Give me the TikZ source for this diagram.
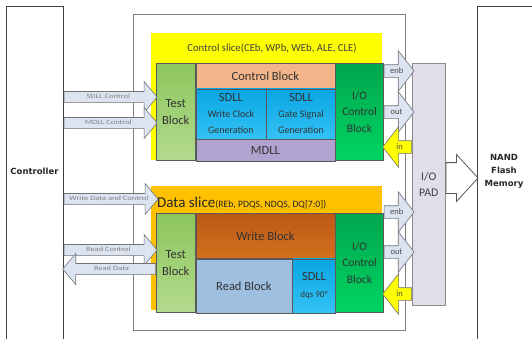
\documentclass[tikz,border=0pt]{standalone}
\usepackage{fontspec}
\setmainfont{Carlito}
\newfontfamily\sidefont{DejaVu Sans}
\usetikzlibrary{shapes.arrows,positioning,calc}

\definecolor{ctlyellow}{HTML}{FFFF00}
\definecolor{dataorange}{HTML}{FFC000}
\definecolor{busfill}{HTML}{DCE4F2}
\definecolor{padlilac}{HTML}{E1DDEA}
\definecolor{peach}{HTML}{F3B489}
\definecolor{mdllpurple}{HTML}{B1A3CF}
\definecolor{readblue}{HTML}{9EBFDF}
\definecolor{testtop}{HTML}{8CC65C}
\definecolor{testbot}{HTML}{B3DA8E}
\definecolor{iotop}{HTML}{00A64E}
\definecolor{iobot}{HTML}{00D462}
\definecolor{sdlltop}{HTML}{08A6E4}
\definecolor{sdllbot}{HTML}{34C2F4}
\definecolor{writetop}{HTML}{BC5814}
\definecolor{writebot}{HTML}{D2701E}

% stretched label on the bus arrows
\newcommand{\buslbl}[1]{\scalebox{1.3}[1]{#1}}

\begin{document}
\begin{tikzpicture}[x=1pt,y=-1pt,
    blk/.style={draw=black!65,line width=0.6pt,anchor=north west,inner sep=0pt,align=center,text=black!80,font=\fontsize{12.5}{16.5}\selectfont},
    testblk/.style={blk,top color=testtop,bottom color=testbot},
    ioblk/.style={blk,top color=iotop,bottom color=iobot,font=\fontsize{11.5}{16.5}\selectfont},
    sdllblk/.style={blk,top color=sdlltop,bottom color=sdllbot,font=\fontsize{10}{16}\selectfont},
    busarrow/.style={single arrow,draw=black!55,line width=0.6pt,fill=busfill,single arrow head extend=10pt,single arrow tip angle=100,inner xsep=1pt,inner ysep=2.5pt,text height=4.5pt,text depth=1pt,text=black!50,font=\fontsize{6.5}{6.5}\selectfont,anchor=tail},
    padarrow/.style={busarrow,single arrow head extend=14pt,single arrow tip angle=104,text height=5.5pt,text depth=1.5pt,text=black!70,font=\fontsize{8.5}{8.5}\selectfont},
    sidebox/.style={draw=black!75,line width=0.8pt,fill=white,anchor=north west,minimum width=57,minimum height=345},
    sidetext/.style={font=\sidefont\bfseries\fontsize{8.5}{13}\selectfont,align=center,text=black!85}]

\useasboundingbox (0,0) rectangle (532,338);

% controller and flash memory at the sides
\node[sidebox] (ctrl) at (6,6) {};
\node[sidetext] (ctrltxt) at (34.5,171) {Controller};
\node[sidebox,minimum width=80] (nand) at (477,6) {};
\node[sidetext] (nandtxt) at (504,171) {NAND\\Flash\\Memory};

% the chip
\node[draw=black!50,line width=0.8pt,fill=white,anchor=north west,minimum width=272,minimum height=316] (chip) at (133,14) {};

% control slice
\node[fill=ctlyellow,anchor=north west,inner sep=0pt,minimum width=231,minimum height=127] (cslice) at (151,33) {};
\node[font=\fontsize{10.7}{12}\selectfont,text=black!75] (ctitle) at (272,48) {Control slice(CEb, WPb, WEb, ALE, CLE)};
\node[testblk,minimum width=39,minimum height=97] (ctest) at (156,63) {Test\\Block};
\node[blk,fill=peach,minimum width=139,minimum height=25] (cblock) at (ctest.north east) {Control Block};
\node[sdllblk,minimum width=70,minimum height=50] (cwclk) at (cblock.south west) {{\fontsize{12.5}{16}\selectfont SDLL}\\Write Clock\\Generation};
\node[sdllblk,minimum width=69,minimum height=50] (cgate) at (cwclk.north east) {{\fontsize{12.5}{16}\selectfont SDLL}\\Gate Signal\\Generation};
\node[blk,fill=mdllpurple,minimum width=139,minimum height=22] (cmdll) at (cwclk.south west) {MDLL};
\node[ioblk,minimum width=48,minimum height=97] (cio) at (cblock.north east) {I/O\\Control\\Block};

% data slice
\node[fill=dataorange,anchor=north west,inner sep=0pt,minimum width=231,minimum height=124] (dslice) at (151,186) {};
\node[anchor=base west,inner sep=0pt,text=black!85,font=\fontsize{15}{18}\selectfont] (dtitle) at (157,207) {Data slice{\fontsize{9.7}{12}\selectfont(REb, PDQS, NDQS, DQ[7:0])}};
\node[testblk,minimum width=39,minimum height=99] (dtest) at (156,213) {Test\\Block};
\node[blk,top color=writetop,bottom color=writebot,minimum width=139,minimum height=45] (dwrite) at (dtest.north east) {Write Block};
\node[blk,fill=readblue,minimum width=96,minimum height=54] (dread) at (dwrite.south west) {Read Block};
\node[sdllblk,minimum width=43,minimum height=54,font=\fontsize{9}{17}\selectfont] (dsdll) at (dread.north east) {{\fontsize{12.5}{16}\selectfont SDLL}\\dqs 90°};
\node[ioblk,minimum width=48,minimum height=99] (dio) at (dwrite.north east) {I/O\\Control\\Block};

% pad
\node[blk,draw=black!45,fill=padlilac,minimum width=33,minimum height=242,font=\fontsize{11.7}{16.5}\selectfont,text=black!75] (pad) at (412,63) {I/O\\PAD};
\node[single arrow,draw=black!65,line width=0.8pt,fill=white,anchor=tail,minimum height=32,single arrow head extend=8pt,single arrow tip angle=95,text height=24pt,inner ysep=3pt,inner xsep=0pt] (padout) at (pad.east |- 0,178) {};

% controller buses
\node[busarrow,minimum height=93] (sdllbus) at (ctrl.east |- 0,97) {\buslbl{SDLL Control}};
\node[busarrow,minimum height=93] (mdllbus) at (ctrl.east |- 0,123) {\buslbl{MDLL Control}};
\node[busarrow,minimum height=94] (wrbus) at (ctrl.east |- 0,199) {\buslbl{Write Data and Control}};
\node[busarrow,minimum height=93] (rdctlbus) at (ctrl.east |- 0,250) {\buslbl{Read Control}};
\node[busarrow,shape border rotate=180,minimum height=93] (rddatabus) at (dtest.west |- 0,269) {\buslbl{Read Data}};

% io control to pad
\node[padarrow,minimum height=30] (cenb) at (cio.east |- 0,71) {enb};
\node[padarrow,minimum height=30] (cout) at (cio.east |- 0,112) {out};
\node[padarrow,fill=ctlyellow,shape border rotate=180,minimum height=29] (cin) at (pad.west |- 0,147) {in};
\node[padarrow,minimum height=30] (denb) at (dio.east |- 0,212) {enb};
\node[padarrow,minimum height=30] (dout) at (dio.east |- 0,252) {out};
\node[padarrow,fill=ctlyellow,shape border rotate=180,minimum height=29] (din) at (pad.west |- 0,294) {in};

\end{tikzpicture}
\end{document}
